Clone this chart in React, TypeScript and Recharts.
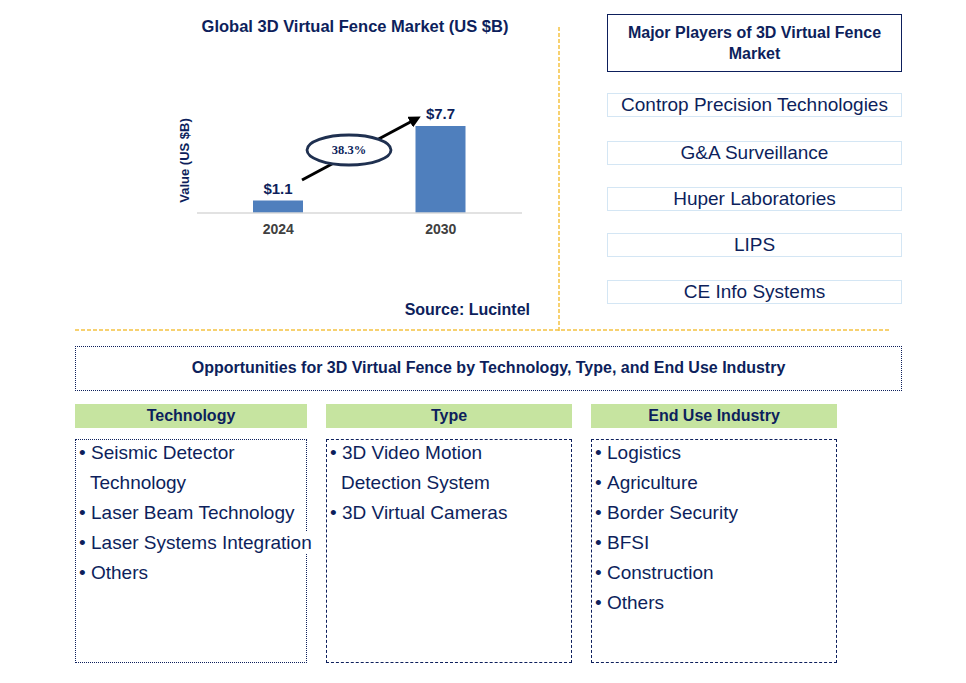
import React from "react";
import { BarChart, Bar, XAxis, YAxis, LabelList } from "recharts";

const years = ["2024", "2030"];
const marketValues = [1.1, 7.7];
const cagrLabel = "38.3%";
const chartTitle = "Global 3D Virtual Fence Market (US $B)";
const yAxisTitle = "Value (US $B)";
const sourceText = "Source: Lucintel";
const playersTitle = ["Major Players of 3D Virtual Fence", "Market"];
const players = [
  "Controp Precision Technologies",
  "G&A Surveillance",
  "Huper Laboratories",
  "LIPS",
  "CE Info Systems",
];
const opportunitiesTitle =
  "Opportunities for 3D Virtual Fence by Technology, Type, and End Use Industry";
const segmentTitles = ["Technology", "Type", "End Use Industry"];
const technologyItems = [
  ["Seismic Detector", "Technology"],
  ["Laser Beam Technology"],
  ["Laser Systems Integration"],
  ["Others"],
];
const typeItems = [["3D Video Motion", "Detection System"], ["3D Virtual Cameras"]];
const endUseItems = [
  ["Logistics"],
  ["Agriculture"],
  ["Border Security"],
  ["BFSI"],
  ["Construction"],
  ["Others"],
];

const data = years.map((y, i) => ({ year: y, value: marketValues[i] }));

const NAVY = "#0d1f5c";
const FONT = "'Liberation Sans', Arial, sans-serif";

const segmentLists = [technologyItems, typeItems, endUseItems];
const colLefts = [75, 326, 591];
const colWidths = [232, 246, 246];
const boxBorders = ["1px dotted " + NAVY, "1px dashed " + NAVY, "1px dashed " + NAVY];

function YLabel(props: any) {
  const vb = props.viewBox || {};
  const cx = vb.x + vb.width - 13;
  const cy = vb.y + vb.height / 2 + 4;
  return (
    <text
      x={cx}
      y={cy}
      transform={`rotate(-90 ${cx} ${cy})`}
      textAnchor="middle"
      dominantBaseline="central"
      fill={NAVY}
      fontSize={13}
      fontWeight="bold"
      fontFamily={FONT}
    >
      {yAxisTitle}
    </text>
  );
}

export default function App() {
  return (
    <div
      style={{
        position: "absolute",
        left: 0,
        top: 0,
        width: 966,
        height: 683,
        background: "#fff",
        fontFamily: FONT,
        color: NAVY,
        overflow: "hidden",
      }}
    >
      {/* Title */}
      <div
        style={{
          position: "absolute",
          left: 150,
          width: 410,
          top: 16,
          textAlign: "center",
          fontWeight: "bold",
          fontSize: 16.5,
          lineHeight: "20px",
          whiteSpace: "nowrap",
        }}
      >
        {chartTitle}
      </div>

      {/* Chart */}
      <div style={{ position: "absolute", left: 150, top: 60 }}>
        <BarChart
          width={390}
          height={190}
          data={data}
          margin={{ top: 40, right: 18, left: 0, bottom: 7 }}
        >
          <XAxis
            dataKey="year"
            height={30}
            tickLine={false}
            tickMargin={5}
            axisLine={{ stroke: "#d9d9d9", strokeWidth: 1.5 }}
            tick={{ fill: "#404040", fontSize: 14, fontWeight: "bold", fontFamily: FONT }}
          />
          <YAxis
            width={47}
            domain={[0, 10]}
            tick={false}
            tickLine={false}
            axisLine={false}
            label={<YLabel />}
          />
          <Bar dataKey="value" fill="#4f7fbd" barSize={50} isAnimationActive={false}>
            <LabelList
              dataKey="value"
              position="top"
              offset={7}
              formatter={(v: any) => `$${v}`}
              style={{ fill: NAVY, fontSize: 15, fontWeight: "bold", fontFamily: FONT }}
            />
          </Bar>
        </BarChart>
      </div>

      {/* Decorations: arrow, CAGR ellipse, dashed separators */}
      <svg
        width={966}
        height={683}
        style={{ position: "absolute", left: 0, top: 0, pointerEvents: "none" }}
      >
        <defs>
          <marker
            id="arrowhead"
            markerWidth="4"
            markerHeight="4"
            refX="2.2"
            refY="2"
            orient="auto"
            markerUnits="strokeWidth"
          >
            <path d="M0,0 L4,2 L0,4 Z" fill="#000" />
          </marker>
        </defs>
        <line
          x1={302}
          y1={180}
          x2={416}
          y2={119}
          stroke="#000"
          strokeWidth={3}
          markerEnd="url(#arrowhead)"
        />
        <ellipse cx={349} cy={150} rx={42} ry={15} fill="#fff" stroke="#1f3050" strokeWidth={2.8} />
        <text
          x={349}
          y={150}
          textAnchor="middle"
          dominantBaseline="central"
          fontFamily="'Liberation Serif', 'DejaVu Serif', serif"
          fontWeight="bold"
          fontSize={12.5}
          fill={NAVY}
        >
          {cagrLabel}
        </text>
        <line x1={559} y1={27} x2={559} y2={333} stroke="#f5c242" strokeWidth={1.5} strokeDasharray="4 2" />
        <line x1={75} y1={330} x2={890} y2={330} stroke="#f5c242" strokeWidth={1.5} strokeDasharray="4 2" />
      </svg>

      {/* Source */}
      <div
        style={{
          position: "absolute",
          left: 330,
          width: 200,
          top: 300,
          textAlign: "right",
          fontWeight: "bold",
          fontSize: 16,
          lineHeight: "20px",
        }}
      >
        {sourceText}
      </div>

      {/* Major players header */}
      <div
        style={{
          position: "absolute",
          left: 607,
          top: 14,
          width: 295,
          height: 58,
          boxSizing: "border-box",
          border: "1.5px solid " + NAVY,
          textAlign: "center",
          fontWeight: "bold",
          fontSize: 16,
          lineHeight: "21px",
          paddingTop: 7,
          whiteSpace: "nowrap",
        }}
      >
        {playersTitle.map((t, i) => (
          <div key={i}>{t}</div>
        ))}
      </div>

      {players.map((p, i) => {
        const tops = [93, 141, 187, 233, 280];
        return (
          <div
            key={p}
            style={{
              position: "absolute",
              left: 607,
              top: tops[i],
              width: 295,
              height: 24,
              boxSizing: "border-box",
              border: "1.5px solid #d4e6f4",
              textAlign: "center",
              fontSize: 19,
              lineHeight: "22px",
              whiteSpace: "nowrap",
            }}
          >
            {p}
          </div>
        );
      })}

      {/* Opportunities header */}
      <div
        style={{
          position: "absolute",
          left: 75,
          top: 346,
          width: 827,
          height: 45,
          boxSizing: "border-box",
          border: "1.5px dotted " + NAVY,
          textAlign: "center",
          fontWeight: "bold",
          fontSize: 16,
          lineHeight: "42px",
          whiteSpace: "nowrap",
        }}
      >
        {opportunitiesTitle}
      </div>

      {segmentTitles.map((t, i) => (
        <div
          key={t}
          style={{
            position: "absolute",
            left: colLefts[i],
            top: 404,
            width: colWidths[i],
            height: 24,
            background: "#c6e4a0",
            textAlign: "center",
            fontWeight: "bold",
            fontSize: 16,
            lineHeight: "24px",
          }}
        >
          {t}
        </div>
      ))}

      {segmentLists.map((items, i) => (
        <React.Fragment key={i}>
          <div
            style={{
              position: "absolute",
              left: colLefts[i],
              top: 439,
              width: colWidths[i],
              height: 224,
              boxSizing: "border-box",
              border: boxBorders[i],
            }}
          />
          <div
            style={{
              position: "absolute",
              left: colLefts[i],
              top: 438,
              fontSize: 19,
              lineHeight: "30px",
              whiteSpace: "nowrap",
            }}
          >
            {items.map((lines, j) => (
              <div key={j} style={{ position: "relative", paddingLeft: 16 }}>
                <span style={{ position: "absolute", left: 4, top: 0 }}>•</span>
                {lines.map((ln, k) => (
                  <div key={k} style={{ marginLeft: k > 0 ? -1 : 0 }}>
                    <span style={{ background: "#fff" }}>{ln}</span>
                  </div>
                ))}
              </div>
            ))}
          </div>
        </React.Fragment>
      ))}
    </div>
  );
}
